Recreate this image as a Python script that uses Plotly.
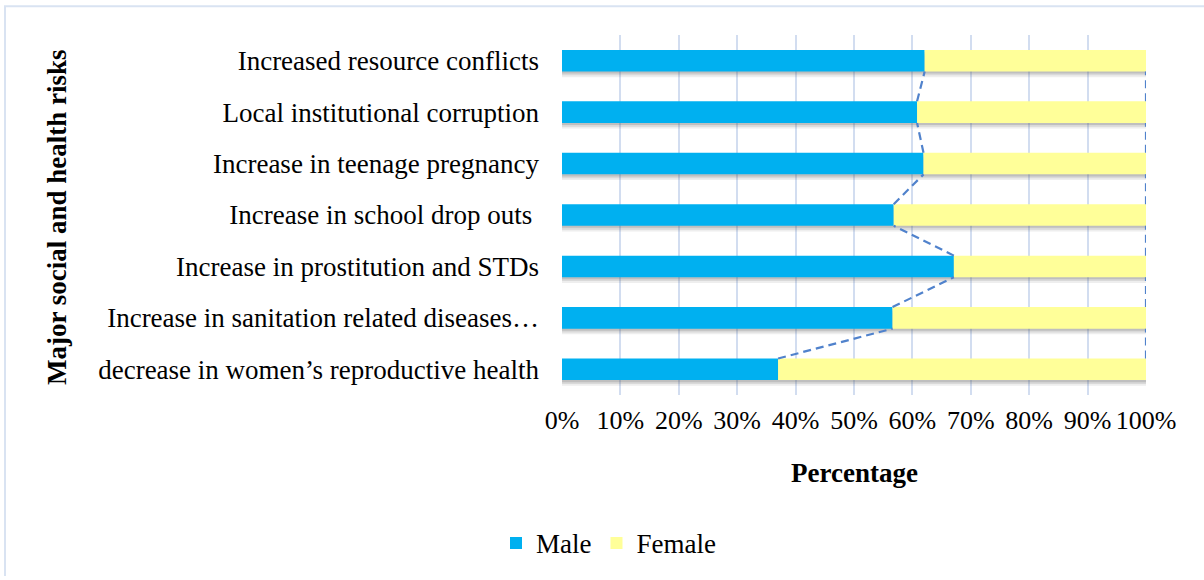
import plotly.graph_objects as go

# Categories listed bottom -> top (as drawn on the y axis)
categories = [
    "decrease in women\u2019s reproductive health",
    "Increase in sanitation related diseases\u2026",
    "Increase in prostitution and STDs",
    "Increase in school drop outs ",
    "Increase in teenage pregnancy",
    "Local institutional corruption",
    "Increased resource conflicts",
]
male = [37.0, 56.6, 67.1, 56.8, 61.9, 60.8, 62.1]
female = [round(100 - m, 1) for m in male]
x_ticks = [0, 10, 20, 30, 40, 50, 60, 70, 80, 90, 100]
x_tick_labels = [f"{t}%" for t in x_ticks]

FONT = "Liberation Serif"
MALE_C = "#00B0F0"
FEMALE_C = "#FFFF99"
GRID_C = "#D2DDF0"
SER_C = "#5082CC"
BORDER_C = "#D9E3F2"
BW = 0.42

W, H = 1204, 580
L, R, T, B = 562, 58, 35, 181
PW, PH = W - L - R, H - T - B


def px_x(p):
    return (p - L) / PW


def px_y(p):
    return (T + PH - p) / PH


pos = list(range(len(categories)))
totals = [m + f for m, f in zip(male, female)]

fig = go.Figure()
# soft shadow under each bar (layers for a fade)
for extra, alpha in ((0.11, 0.10), (0.075, 0.14), (0.04, 0.20)):
    fig.add_trace(go.Bar(y=pos, x=totals, orientation="h", showlegend=False,
                         hoverinfo="skip", width=BW, offset=-BW / 2 - extra,
                         marker=dict(color=f"rgba(90,90,90,{alpha})", line=dict(width=0))))
fig.add_trace(go.Bar(y=pos, x=male, orientation="h", name="Male", base=0,
                     marker=dict(color=MALE_C, line=dict(width=0)), width=BW))
fig.add_trace(go.Bar(y=pos, x=female, orientation="h", name="Female", base=male,
                     marker=dict(color=FEMALE_C, line=dict(width=0)), width=BW))

# Series lines (Excel style) connecting segment ends between adjacent bars
for series in (male, totals):
    xs, ys = [], []
    for i in range(len(pos) - 1):
        xs += [series[i], series[i + 1], None]
        ys += [pos[i] + BW / 2, pos[i + 1] - BW / 2, None]
    fig.add_trace(go.Scatter(x=xs, y=ys, mode="lines", showlegend=False,
                             hoverinfo="skip",
                             line=dict(color=SER_C, width=2.2, dash="8px,5px")))

fig.update_layout(
    barmode="overlay",
    width=W, height=H,
    margin=dict(l=L, r=R, t=T, b=B),
    paper_bgcolor="white", plot_bgcolor="white",
    font=dict(family=FONT, size=26, color="black"),
    showlegend=True,
    legend=dict(orientation="h", x=px_x(496), xanchor="left",
                y=px_y(549), yanchor="middle",
                font=dict(family=FONT, size=27, color="black"),
                itemwidth=30, traceorder="normal", itemclick=False),
)
fig.update_xaxes(range=[0, 100], tickvals=x_ticks, ticktext=x_tick_labels,
                 showgrid=True, gridcolor=GRID_C, gridwidth=2,
                 zeroline=False, showline=False, ticks="",
                 ticklabelstandoff=7,
                 tickfont=dict(family=FONT, size=26, color="black"))
fig.update_yaxes(range=[-0.5, 6.5], tickvals=pos, ticktext=categories,
                 showgrid=False, zeroline=False, showline=False, ticks="",
                 ticklabelstandoff=22,
                 tickfont=dict(family=FONT, size=27, color="black"))

# axis titles
fig.add_annotation(text="<b>Percentage</b>", xref="paper", yref="paper",
                   x=0.5, y=px_y(478), xanchor="center", yanchor="middle",
                   showarrow=False, font=dict(family=FONT, size=27, color="black"))
fig.add_annotation(text="<b>Major social and health risks</b>", xref="paper", yref="paper",
                   x=px_x(57), y=px_y(219), xanchor="center", yanchor="middle",
                   textangle=-90,
                   showarrow=False, font=dict(family=FONT, size=27, color="black"))

# outer chart frame (only top and left edges are visible in the crop)
fig.add_shape(type="line", xref="paper", yref="paper",
              x0=px_x(4), x1=px_x(W + 2), y0=px_y(6), y1=px_y(6),
              line=dict(color=BORDER_C, width=2), layer="below")
fig.add_shape(type="line", xref="paper", yref="paper",
              x0=px_x(5), x1=px_x(5), y0=px_y(6), y1=px_y(H + 2),
              line=dict(color=BORDER_C, width=2), layer="below")

fig.write_html("out.html", config={"displayModeBar": False},
               post_script="document.body.style.margin='0';")
